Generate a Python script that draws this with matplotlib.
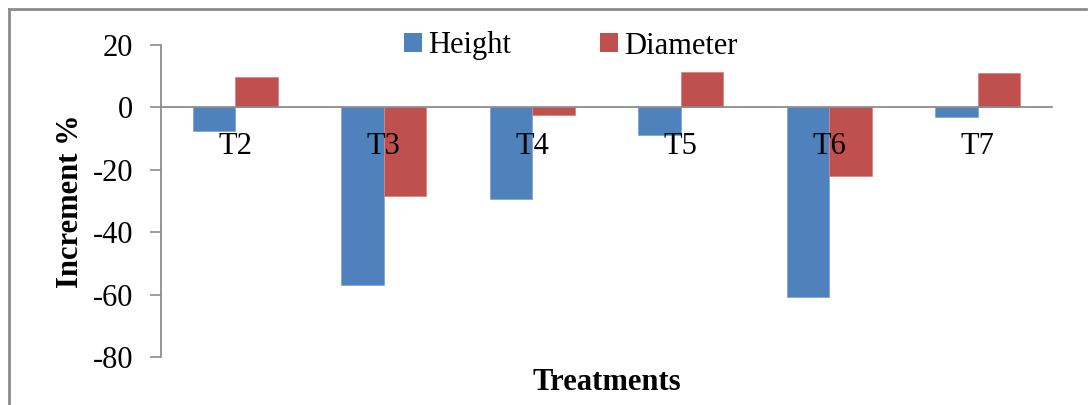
import numpy as np
import matplotlib.pyplot as plt
from matplotlib.patches import Patch
from matplotlib.lines import Line2D

treatments = ['T2', 'T3', 'T4', 'T5', 'T6', 'T7']
height = [-7.7, -56.9, -29.2, -8.9, -60.7, -3.2]
diameter = [9.7, -28.5, -2.4, 11.5, -22.1, 10.9]

blue = '#4F81BD'
red = '#C0504D'
grey = '#8C8C8C'

plt.rcParams['font.family'] = ['Liberation Serif', 'DejaVu Serif']
plt.rcParams['axes.unicode_minus'] = False
fs = 22

W, H = 1090, 405
fig = plt.figure(figsize=(W / 100, H / 100), dpi=100, facecolor='white',
                 edgecolor='white', linewidth=0)
ax = fig.add_axes([161 / W, 1 - 357 / H, (1052 - 161) / W, (357 - 45) / H])

x = np.arange(len(treatments))
bw = 0.286
ax.bar(x - bw / 2, height, bw, color=blue, edgecolor='#7FA6D6', linewidth=0.6, zorder=2)
ax.bar(x + bw / 2, diameter, bw, color=red, edgecolor='#D98583', linewidth=0.6, zorder=2)

ax.set_xlim(-0.5, len(treatments) - 0.5)
ax.set_ylim(-80, 20)
ax.set_yticks([-80, -60, -40, -20, 0, 20])
ax.set_xticks([])

# category labels sit just under the zero line, drawn over the bars
for xi, name in zip(x, treatments):
    ax.annotate(name, (xi, 0), xytext=(0, -18), textcoords='offset points',
                ha='center', va='top', fontsize=fs, zorder=5)

for s in ['top', 'right']:
    ax.spines[s].set_visible(False)
ax.spines['bottom'].set_position(('data', 0))
ax.spines['bottom'].set_color(grey)
ax.spines['bottom'].set_linewidth(1.3)
ax.spines['bottom'].set_zorder(3)
ax.spines['left'].set_color(grey)
ax.spines['left'].set_linewidth(1.3)

ax.tick_params(axis='y', direction='out', length=8, width=1.2, color=grey,
               labelsize=fs, pad=12)

fig.text(607 / W, 1 - 382 / H, 'Treatments', fontsize=fs, fontweight='bold',
         ha='center', va='center')
fig.text(70 / W, 1 - 201 / H, 'Increment %', fontsize=fs, fontweight='bold',
         ha='center', va='center', rotation=90)

handles = [Patch(facecolor=blue), Patch(facecolor=red)]
fig.legend(handles, ['Height', 'Diameter'], loc='center left',
           bbox_to_anchor=(404 / W, 1 - 46 / H), ncol=2, frameon=False,
           fontsize=fs, handlelength=0.6, handleheight=0.6, handletextpad=0.2,
           columnspacing=2.9, borderpad=0, borderaxespad=0)

# outer chart border (only top/left visible in the original crop)
bx, by = 9 / W, 1 - 9 / H
fig.add_artist(Line2D([bx, bx], [0, by], transform=fig.transFigure, color=grey, lw=2))
fig.add_artist(Line2D([bx, 0.996], [by, by], transform=fig.transFigure, color=grey, lw=2))

fig.savefig('out.png', dpi=100, facecolor='white', edgecolor='white')
